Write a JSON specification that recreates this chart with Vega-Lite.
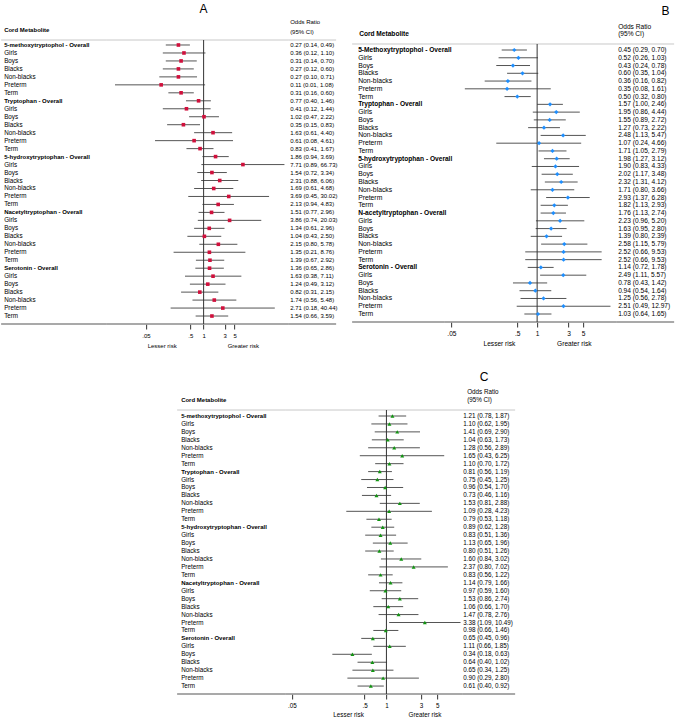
{
"$schema": "https://vega.github.io/schema/vega-lite/v6.json",
"padding": {"left": 0, "top": 2, "right": 0, "bottom": 0},
"config": {"view": {"stroke": null}, "text": {"font": "Liberation Sans", "color": "#000000"}, "axis": {"labelFont": "Liberation Sans"}},
"datasets": {
"A": [
{"row":1,"label":"5-methoxytryptophol - Overall","or":0.27,"lo":0.14,"hi":0.49,"ci":"0.27 (0.14, 0.49)"},
{"row":2,"label":"Girls","or":0.36,"lo":0.12,"hi":1.10,"ci":"0.36 (0.12, 1.10)"},
{"row":3,"label":"Boys","or":0.31,"lo":0.14,"hi":0.70,"ci":"0.31 (0.14, 0.70)"},
{"row":4,"label":"Blacks","or":0.27,"lo":0.12,"hi":0.60,"ci":"0.27 (0.12, 0.60)"},
{"row":5,"label":"Non-blacks","or":0.27,"lo":0.10,"hi":0.71,"ci":"0.27 (0.10, 0.71)"},
{"row":6,"label":"Preterm","or":0.11,"lo":0.01,"hi":1.08,"ci":"0.11 (0.01, 1.08)"},
{"row":7,"label":"Term","or":0.31,"lo":0.16,"hi":0.60,"ci":"0.31 (0.16, 0.60)"},
{"row":8,"label":"Tryptophan - Overall","or":0.77,"lo":0.40,"hi":1.46,"ci":"0.77 (0.40, 1.46)"},
{"row":9,"label":"Girls","or":0.41,"lo":0.12,"hi":1.44,"ci":"0.41 (0.12, 1.44)"},
{"row":10,"label":"Boys","or":1.02,"lo":0.47,"hi":2.22,"ci":"1.02 (0.47, 2.22)"},
{"row":11,"label":"Blacks","or":0.35,"lo":0.15,"hi":0.83,"ci":"0.35 (0.15, 0.83)"},
{"row":12,"label":"Non-blacks","or":1.63,"lo":0.61,"hi":4.40,"ci":"1.63 (0.61, 4.40)"},
{"row":13,"label":"Preterm","or":0.61,"lo":0.08,"hi":4.61,"ci":"0.61 (0.08, 4.61)"},
{"row":14,"label":"Term","or":0.83,"lo":0.41,"hi":1.67,"ci":"0.83 (0.41, 1.67)"},
{"row":15,"label":"5-hydroxytryptophan - Overall","or":1.86,"lo":0.94,"hi":3.69,"ci":"1.86 (0.94, 3.69)"},
{"row":16,"label":"Girls","or":7.71,"lo":0.89,"hi":66.73,"ci":"7.71 (0.89, 66.73)"},
{"row":17,"label":"Boys","or":1.54,"lo":0.72,"hi":3.34,"ci":"1.54 (0.72, 3.34)"},
{"row":18,"label":"Blacks","or":2.31,"lo":0.88,"hi":6.06,"ci":"2.31 (0.88, 6.06)"},
{"row":19,"label":"Non-blacks","or":1.69,"lo":0.61,"hi":4.68,"ci":"1.69 (0.61, 4.68)"},
{"row":20,"label":"Preterm","or":3.69,"lo":0.45,"hi":30.02,"ci":"3.69 (0.45, 30.02)"},
{"row":21,"label":"Term","or":2.13,"lo":0.94,"hi":4.83,"ci":"2.13 (0.94, 4.83)"},
{"row":22,"label":"Nacetyltryptophan - Overall","or":1.51,"lo":0.77,"hi":2.96,"ci":"1.51 (0.77, 2.96)"},
{"row":23,"label":"Girls","or":3.86,"lo":0.74,"hi":20.03,"ci":"3.86 (0.74, 20.03)"},
{"row":24,"label":"Boys","or":1.34,"lo":0.61,"hi":2.96,"ci":"1.34 (0.61, 2.96)"},
{"row":25,"label":"Blacks","or":1.04,"lo":0.43,"hi":2.50,"ci":"1.04 (0.43, 2.50)"},
{"row":26,"label":"Non-blacks","or":2.15,"lo":0.80,"hi":5.78,"ci":"2.15 (0.80, 5.78)"},
{"row":27,"label":"Preterm","or":1.35,"lo":0.21,"hi":8.76,"ci":"1.35 (0.21, 8.76)"},
{"row":28,"label":"Term","or":1.39,"lo":0.67,"hi":2.92,"ci":"1.39 (0.67, 2.92)"},
{"row":29,"label":"Serotonin - Overall","or":1.36,"lo":0.65,"hi":2.86,"ci":"1.36 (0.65, 2.86)"},
{"row":30,"label":"Girls","or":1.63,"lo":0.38,"hi":7.11,"ci":"1.63 (0.38, 7.11)"},
{"row":31,"label":"Boys","or":1.24,"lo":0.49,"hi":3.12,"ci":"1.24 (0.49, 3.12)"},
{"row":32,"label":"Blacks","or":0.82,"lo":0.31,"hi":2.15,"ci":"0.82 (0.31, 2.15)"},
{"row":33,"label":"Non-blacks","or":1.74,"lo":0.56,"hi":5.48,"ci":"1.74 (0.56, 5.48)"},
{"row":34,"label":"Preterm","or":2.71,"lo":0.18,"hi":40.44,"ci":"2.71 (0.18, 40.44)"},
{"row":35,"label":"Term","or":1.54,"lo":0.66,"hi":3.59,"ci":"1.54 (0.66, 3.59)"}
],
"B": [
{"row":1,"label":"5-Methoxytryptophol - Overall","or":0.45,"lo":0.29,"hi":0.70,"ci":"0.45 (0.29, 0.70)"},
{"row":2,"label":"Girls","or":0.52,"lo":0.26,"hi":1.03,"ci":"0.52 (0.26, 1.03)"},
{"row":3,"label":"Boys","or":0.43,"lo":0.24,"hi":0.78,"ci":"0.43 (0.24, 0.78)"},
{"row":4,"label":"Blacks","or":0.60,"lo":0.35,"hi":1.04,"ci":"0.60 (0.35, 1.04)"},
{"row":5,"label":"Non-blacks","or":0.36,"lo":0.16,"hi":0.82,"ci":"0.36 (0.16, 0.82)"},
{"row":6,"label":"Preterm","or":0.35,"lo":0.08,"hi":1.61,"ci":"0.35 (0.08, 1.61)"},
{"row":7,"label":"Term","or":0.50,"lo":0.32,"hi":0.80,"ci":"0.50 (0.32, 0.80)"},
{"row":8,"label":"Tryptophan - Overall","or":1.57,"lo":1.00,"hi":2.46,"ci":"1.57 (1.00, 2.46)"},
{"row":9,"label":"Girls","or":1.95,"lo":0.86,"hi":4.44,"ci":"1.95 (0.86, 4.44)"},
{"row":10,"label":"Boys","or":1.55,"lo":0.89,"hi":2.72,"ci":"1.55 (0.89, 2.72)"},
{"row":11,"label":"Blacks","or":1.27,"lo":0.73,"hi":2.22,"ci":"1.27 (0.73, 2.22)"},
{"row":12,"label":"Non-blacks","or":2.48,"lo":1.13,"hi":5.47,"ci":"2.48 (1.13, 5.47)"},
{"row":13,"label":"Preterm","or":1.07,"lo":0.24,"hi":4.66,"ci":"1.07 (0.24, 4.66)"},
{"row":14,"label":"Term","or":1.71,"lo":1.05,"hi":2.79,"ci":"1.71 (1.05, 2.79)"},
{"row":15,"label":"5-hydroxytryptophan - Overall","or":1.98,"lo":1.27,"hi":3.12,"ci":"1.98 (1.27, 3.12)"},
{"row":16,"label":"Girls","or":1.90,"lo":0.83,"hi":4.33,"ci":"1.90 (0.83, 4.33)"},
{"row":17,"label":"Boys","or":2.02,"lo":1.17,"hi":3.48,"ci":"2.02 (1.17, 3.48)"},
{"row":18,"label":"Blacks","or":2.32,"lo":1.31,"hi":4.12,"ci":"2.32 (1.31, 4.12)"},
{"row":19,"label":"Non-blacks","or":1.71,"lo":0.80,"hi":3.66,"ci":"1.71 (0.80, 3.66)"},
{"row":20,"label":"Preterm","or":2.93,"lo":1.37,"hi":6.28,"ci":"2.93 (1.37, 6.28)"},
{"row":21,"label":"Term","or":1.82,"lo":1.13,"hi":2.93,"ci":"1.82 (1.13, 2.93)"},
{"row":22,"label":"N-acetyltryptophan - Overall","or":1.76,"lo":1.13,"hi":2.74,"ci":"1.76 (1.13, 2.74)"},
{"row":23,"label":"Girls","or":2.23,"lo":0.96,"hi":5.20,"ci":"2.23 (0.96, 5.20)"},
{"row":24,"label":"Boys","or":1.63,"lo":0.95,"hi":2.80,"ci":"1.63 (0.95, 2.80)"},
{"row":25,"label":"Blacks","or":1.39,"lo":0.80,"hi":2.39,"ci":"1.39 (0.80, 2.39)"},
{"row":26,"label":"Non-blacks","or":2.58,"lo":1.15,"hi":5.79,"ci":"2.58 (1.15, 5.79)"},
{"row":27,"label":"Preterm","or":2.52,"lo":0.66,"hi":9.53,"ci":"2.52 (0.66, 9.53)"},
{"row":28,"label":"Term","or":2.52,"lo":0.66,"hi":9.53,"ci":"2.52 (0.66, 9.53)"},
{"row":29,"label":"Serotonin - Overall","or":1.14,"lo":0.72,"hi":1.78,"ci":"1.14 (0.72, 1.78)"},
{"row":30,"label":"Girls","or":2.49,"lo":1.11,"hi":5.57,"ci":"2.49 (1.11, 5.57)"},
{"row":31,"label":"Boys","or":0.78,"lo":0.43,"hi":1.42,"ci":"0.78 (0.43, 1.42)"},
{"row":32,"label":"Blacks","or":0.94,"lo":0.54,"hi":1.64,"ci":"0.94 (0.54, 1.64)"},
{"row":33,"label":"Non-blacks","or":1.25,"lo":0.56,"hi":2.78,"ci":"1.25 (0.56, 2.78)"},
{"row":34,"label":"Preterm","or":2.51,"lo":0.49,"hi":12.97,"ci":"2.51 (0.49, 12.97)"},
{"row":35,"label":"Term","or":1.03,"lo":0.64,"hi":1.65,"ci":"1.03 (0.64, 1.65)"}
],
"C": [
{"row":1,"label":"5-methoxytryptophol - Overall","or":1.21,"lo":0.78,"hi":1.87,"ci":"1.21 (0.78, 1.87)"},
{"row":2,"label":"Girls","or":1.10,"lo":0.62,"hi":1.95,"ci":"1.10 (0.62, 1.95)"},
{"row":3,"label":"Boys","or":1.41,"lo":0.69,"hi":2.90,"ci":"1.41 (0.69, 2.90)"},
{"row":4,"label":"Blacks","or":1.04,"lo":0.63,"hi":1.73,"ci":"1.04 (0.63, 1.73)"},
{"row":5,"label":"Non-blacks","or":1.28,"lo":0.56,"hi":2.89,"ci":"1.28 (0.56, 2.89)"},
{"row":6,"label":"Preterm","or":1.65,"lo":0.43,"hi":6.25,"ci":"1.65 (0.43, 6.25)"},
{"row":7,"label":"Term","or":1.10,"lo":0.70,"hi":1.72,"ci":"1.10 (0.70, 1.72)"},
{"row":8,"label":"Tryptophan - Overall","or":0.81,"lo":0.56,"hi":1.19,"ci":"0.81 (0.56, 1.19)"},
{"row":9,"label":"Girls","or":0.75,"lo":0.45,"hi":1.25,"ci":"0.75 (0.45, 1.25)"},
{"row":10,"label":"Boys","or":0.96,"lo":0.54,"hi":1.70,"ci":"0.96 (0.54, 1.70)"},
{"row":11,"label":"Blacks","or":0.73,"lo":0.46,"hi":1.16,"ci":"0.73 (0.46, 1.16)"},
{"row":12,"label":"Non-blacks","or":1.53,"lo":0.81,"hi":2.88,"ci":"1.53 (0.81, 2.88)"},
{"row":13,"label":"Preterm","or":1.09,"lo":0.28,"hi":4.23,"ci":"1.09 (0.28, 4.23)"},
{"row":14,"label":"Term","or":0.79,"lo":0.53,"hi":1.18,"ci":"0.79 (0.53, 1.18)"},
{"row":15,"label":"5-hydroxytryptophan - Overall","or":0.89,"lo":0.62,"hi":1.28,"ci":"0.89 (0.62, 1.28)"},
{"row":16,"label":"Girls","or":0.83,"lo":0.51,"hi":1.36,"ci":"0.83 (0.51, 1.36)"},
{"row":17,"label":"Boys","or":1.13,"lo":0.65,"hi":1.96,"ci":"1.13 (0.65, 1.96)"},
{"row":18,"label":"Blacks","or":0.80,"lo":0.51,"hi":1.26,"ci":"0.80 (0.51, 1.26)"},
{"row":19,"label":"Non-blacks","or":1.60,"lo":0.84,"hi":3.02,"ci":"1.60 (0.84, 3.02)"},
{"row":20,"label":"Preterm","or":2.37,"lo":0.80,"hi":7.02,"ci":"2.37 (0.80, 7.02)"},
{"row":21,"label":"Term","or":0.83,"lo":0.56,"hi":1.22,"ci":"0.83 (0.56, 1.22)"},
{"row":22,"label":"Nacetyltryptophan - Overall","or":1.14,"lo":0.79,"hi":1.66,"ci":"1.14 (0.79, 1.66)"},
{"row":23,"label":"Girls","or":0.97,"lo":0.59,"hi":1.60,"ci":"0.97 (0.59, 1.60)"},
{"row":24,"label":"Boys","or":1.53,"lo":0.86,"hi":2.74,"ci":"1.53 (0.86, 2.74)"},
{"row":25,"label":"Blacks","or":1.06,"lo":0.66,"hi":1.70,"ci":"1.06 (0.66, 1.70)"},
{"row":26,"label":"Non-blacks","or":1.47,"lo":0.78,"hi":2.76,"ci":"1.47 (0.78, 2.76)"},
{"row":27,"label":"Preterm","or":3.38,"lo":1.09,"hi":10.49,"ci":"3.38 (1.09, 10.49)"},
{"row":28,"label":"Term","or":0.98,"lo":0.66,"hi":1.46,"ci":"0.98 (0.66, 1.46)"},
{"row":29,"label":"Serotonin - Overall","or":0.65,"lo":0.45,"hi":0.96,"ci":"0.65 (0.45, 0.96)"},
{"row":30,"label":"Girls","or":1.11,"lo":0.66,"hi":1.85,"ci":"1.11 (0.66, 1.85)"},
{"row":31,"label":"Boys","or":0.34,"lo":0.18,"hi":0.63,"ci":"0.34 (0.18, 0.63)"},
{"row":32,"label":"Blacks","or":0.64,"lo":0.40,"hi":1.02,"ci":"0.64 (0.40, 1.02)"},
{"row":33,"label":"Non-blacks","or":0.65,"lo":0.34,"hi":1.25,"ci":"0.65 (0.34, 1.25)"},
{"row":34,"label":"Preterm","or":0.90,"lo":0.29,"hi":2.80,"ci":"0.90 (0.29, 2.80)"},
{"row":35,"label":"Term","or":0.61,"lo":0.40,"hi":0.92,"ci":"0.61 (0.40, 0.92)"}
]
},
"vconcat": [
{
"spacing": 13,
"hconcat": [
{
"bounds": "flush", "spacing": 0,
"hconcat": [
{
"width": 105, "height": 284,
"layer": [
{"data": {"values": [{}]}, "mark": {"type": "rule", "color": "#c8c8c8", "strokeWidth": 1}, "encoding": {"y": {"datum": 0.373, "scale": {"domain": [0.373, 36], "reverse": true, "nice": false, "zero": false}, "axis": null}}},
{"data": {"values": [{}]}, "mark": {"type": "rule", "color": "#8c8c8c", "strokeWidth": 1.5}, "encoding": {"y": {"datum": 36, "axis": null}}},
{"data": {"name": "A"}, "transform": [{"filter": "test(/Overall/, datum.label)"}], "mark": {"type": "text", "align": "left", "baseline": "middle", "dx": 3, "fontSize": 6, "fontWeight": "bold"}, "encoding": {"x": {"datum": 0, "scale": {"domain": [0, 1], "nice": false, "zero": false}, "axis": null}, "y": {"field": "row", "type": "quantitative", "axis": null}, "text": {"field": "label"}}},
{"data": {"name": "A"}, "transform": [{"filter": "!test(/Overall/, datum.label)"}], "mark": {"type": "text", "align": "left", "baseline": "middle", "dx": 3, "fontSize": 6.3}, "encoding": {"x": {"datum": 0, "axis": null}, "y": {"field": "row", "type": "quantitative", "axis": null}, "text": {"field": "label"}}},
{"data": {"values": [{}]}, "mark": {"type": "text", "align": "left", "baseline": "middle", "dx": 3, "fontSize": 6, "fontWeight": "bold"}, "encoding": {"x": {"datum": 0, "axis": null}, "y": {"datum": -0.88, "axis": null}, "text": {"value": "Cord Metabolite"}}}
]
},
{
"width": 182, "height": 284,
"layer": [
{"data": {"values": [{}]}, "mark": {"type": "rule", "color": "#c8c8c8", "strokeWidth": 1}, "encoding": {"y": {"datum": 0.373, "scale": {"domain": [0.373, 36], "reverse": true, "nice": false, "zero": false}, "axis": null}}},
{"data": {"values": [{}]}, "mark": {"type": "rule", "color": "#8c8c8c", "strokeWidth": 1.5}, "encoding": {"y": {"datum": 36, "axis": null}}},
{"data": {"name": "A"}, "mark": {"type": "rule", "color": "#555555", "strokeWidth": 1}, "encoding": {"x": {"field": "lo", "type": "quantitative", "scale": {"type": "log", "domain": [0.0063, 80.8], "nice": false}, "axis": {"values": [0.05, 0.5, 1, 3, 5], "labelExpr": "datum.value == 0.05 ? '.05' : datum.value == 0.5 ? '.5' : format(datum.value, 'd')", "domain": false, "grid": false, "ticks": true, "tickSize": 5, "tickColor": "#333333", "labelFontSize": 6, "labelPadding": 3, "labelColor": "#000000", "labelFlush": false, "labelOverlap": false, "title": null}}, "x2": {"field": "hi"}, "y": {"field": "row", "type": "quantitative", "axis": null}}},
{"data": {"values": [{}]}, "mark": {"type": "rule", "color": "#333333", "strokeWidth": 1}, "encoding": {"x": {"datum": 1}}},
{"data": {"name": "A"}, "mark": {"type": "point", "shape": "square", "filled": true, "color": "#d0103c", "opacity": 1, "size": 13}, "encoding": {"x": {"field": "or", "type": "quantitative"}, "y": {"field": "row", "type": "quantitative", "axis": null}}},
{"data": {"values": [{}]}, "mark": {"type": "text", "align": "center", "baseline": "middle", "fontSize": 12}, "encoding": {"x": {"datum": 1}, "y": {"datum": -3.55, "axis": null}, "text": {"value": "A"}}},
{"data": {"values": [{}]}, "mark": {"type": "text", "align": "center", "baseline": "middle", "fontSize": 6}, "encoding": {"x": {"datum": 0.116}, "y": {"datum": 38.75, "axis": null}, "text": {"value": "Lesser risk"}}},
{"data": {"values": [{}]}, "mark": {"type": "text", "align": "center", "baseline": "middle", "fontSize": 6}, "encoding": {"x": {"datum": 7.88}, "y": {"datum": 38.75, "axis": null}, "text": {"value": "Greater risk"}}}
]
},
{
"width": 48, "height": 284,
"layer": [
{"data": {"values": [{}]}, "mark": {"type": "rule", "color": "#c8c8c8", "strokeWidth": 1}, "encoding": {"y": {"datum": 0.373, "scale": {"domain": [0.373, 36], "reverse": true, "nice": false, "zero": false}, "axis": null}}},
{"data": {"values": [{}]}, "mark": {"type": "rule", "color": "#8c8c8c", "strokeWidth": 1.5}, "encoding": {"y": {"datum": 36, "axis": null}}},
{"data": {"name": "A"}, "mark": {"type": "text", "align": "left", "baseline": "middle", "dx": 2, "fontSize": 6}, "encoding": {"x": {"datum": 0, "scale": {"domain": [0, 1], "nice": false, "zero": false}, "axis": null}, "y": {"field": "row", "type": "quantitative", "axis": null}, "text": {"field": "ci"}}},
{"data": {"values": [{}]}, "mark": {"type": "text", "align": "left", "baseline": "middle", "dx": 2, "fontSize": 6}, "encoding": {"x": {"datum": 0, "axis": null}, "y": {"datum": -1.92, "axis": null}, "text": {"value": "Odds Ratio"}}},
{"data": {"values": [{}]}, "mark": {"type": "text", "align": "left", "baseline": "middle", "dx": 2, "fontSize": 6}, "encoding": {"x": {"datum": 0, "axis": null}, "y": {"datum": -0.67, "axis": null}, "text": {"value": "(95% CI)"}}}
]
}
]
},
{
"bounds": "flush", "spacing": 0,
"hconcat": [
{
"width": 92, "height": 282,
"layer": [
{"data": {"values": [{}]}, "mark": {"type": "rule", "color": "#c8c8c8", "strokeWidth": 1}, "encoding": {"y": {"datum": 0.227, "scale": {"domain": [-0.288, 36.03], "reverse": true, "nice": false, "zero": false}, "axis": null}}},
{"data": {"values": [{}]}, "mark": {"type": "rule", "color": "#8c8c8c", "strokeWidth": 1.5}, "encoding": {"y": {"datum": 36.03, "axis": null}}},
{"data": {"name": "B"}, "transform": [{"filter": "test(/Overall/, datum.label)"}], "mark": {"type": "text", "align": "left", "baseline": "middle", "dx": 6, "fontSize": 6.6, "fontWeight": "bold"}, "encoding": {"x": {"datum": 0, "scale": {"domain": [0, 1], "nice": false, "zero": false}, "axis": null}, "y": {"field": "row", "type": "quantitative", "axis": null}, "text": {"field": "label"}}},
{"data": {"name": "B"}, "transform": [{"filter": "!test(/Overall/, datum.label)"}], "mark": {"type": "text", "align": "left", "baseline": "middle", "dx": 6, "fontSize": 6.8}, "encoding": {"x": {"datum": 0, "axis": null}, "y": {"field": "row", "type": "quantitative", "axis": null}, "text": {"field": "label"}}},
{"data": {"values": [{}]}, "mark": {"type": "text", "align": "left", "baseline": "middle", "dx": 7, "fontSize": 6.6, "fontWeight": "bold"}, "encoding": {"x": {"datum": 0, "axis": null}, "y": {"datum": -1.01, "axis": null}, "text": {"value": "Cord Metabolite"}}}
]
},
{
"width": 172, "height": 282,
"layer": [
{"data": {"values": [{}]}, "mark": {"type": "rule", "color": "#c8c8c8", "strokeWidth": 1}, "encoding": {"y": {"datum": 0.227, "scale": {"domain": [-0.288, 36.03], "reverse": true, "nice": false, "zero": false}, "axis": null}}},
{"data": {"values": [{}]}, "mark": {"type": "rule", "color": "#8c8c8c", "strokeWidth": 1.5}, "encoding": {"y": {"datum": 36.03, "axis": null}}},
{"data": {"name": "B"}, "mark": {"type": "rule", "color": "#555555", "strokeWidth": 1}, "encoding": {"x": {"field": "lo", "type": "quantitative", "scale": {"type": "log", "domain": [0.0388, 15.8], "nice": false}, "axis": {"values": [0.05, 0.5, 1, 3, 5], "labelExpr": "datum.value == 0.05 ? '.05' : datum.value == 0.5 ? '.5' : format(datum.value, 'd')", "domain": false, "grid": false, "ticks": true, "tickSize": 5, "tickColor": "#333333", "labelFontSize": 6.6, "labelPadding": 3, "labelColor": "#000000", "labelFlush": false, "labelOverlap": false, "title": null}}, "x2": {"field": "hi"}, "y": {"field": "row", "type": "quantitative", "axis": null}}},
{"data": {"values": [{}]}, "mark": {"type": "rule", "color": "#333333", "strokeWidth": 1}, "encoding": {"x": {"datum": 1}, "y": {"datum": 0.227, "axis": null}, "y2": {"datum": 36.03}}},
{"data": {"name": "B"}, "mark": {"type": "point", "shape": "diamond", "filled": true, "color": "#1e8fff", "opacity": 1, "size": 18}, "encoding": {"x": {"field": "or", "type": "quantitative"}, "y": {"field": "row", "type": "quantitative", "axis": null}}},
{"data": {"values": [{}]}, "mark": {"type": "text", "align": "center", "baseline": "middle", "fontSize": 6.6}, "encoding": {"x": {"datum": 0.268}, "y": {"datum": 38.86, "axis": null}, "text": {"value": "Lesser risk"}}},
{"data": {"values": [{}]}, "mark": {"type": "text", "align": "center", "baseline": "middle", "fontSize": 6.6}, "encoding": {"x": {"datum": 3.67}, "y": {"datum": 38.86, "axis": null}, "text": {"value": "Greater risk"}}}
]
},
{
"width": 58, "height": 282,
"layer": [
{"data": {"values": [{}]}, "mark": {"type": "rule", "color": "#c8c8c8", "strokeWidth": 1}, "encoding": {"y": {"datum": 0.227, "scale": {"domain": [-0.288, 36.03], "reverse": true, "nice": false, "zero": false}, "axis": null}}},
{"data": {"values": [{}]}, "mark": {"type": "rule", "color": "#8c8c8c", "strokeWidth": 1.5}, "encoding": {"y": {"datum": 36.03, "axis": null}}},
{"data": {"name": "B"}, "mark": {"type": "text", "align": "left", "baseline": "middle", "dx": 2, "fontSize": 6.6}, "encoding": {"x": {"datum": 0, "scale": {"domain": [0, 1], "nice": false, "zero": false}, "axis": null}, "y": {"field": "row", "type": "quantitative", "axis": null}, "text": {"field": "ci"}}},
{"data": {"values": [{}]}, "mark": {"type": "text", "align": "left", "baseline": "middle", "dx": 2, "fontSize": 6.6}, "encoding": {"x": {"datum": 0, "axis": null}, "y": {"datum": -2.0, "axis": null}, "text": {"value": "Odds Ratio"}}},
{"data": {"values": [{}]}, "mark": {"type": "text", "align": "left", "baseline": "middle", "dx": 2, "fontSize": 6.6}, "encoding": {"x": {"datum": 0, "axis": null}, "y": {"datum": -1.01, "axis": null}, "text": {"value": "(95% CI)"}}},
{"data": {"values": [{}]}, "mark": {"type": "text", "align": "center", "baseline": "middle", "fontSize": 12}, "encoding": {"x": {"datum": 0.85, "axis": null}, "y": {"datum": -4.06, "axis": null}, "text": {"value": "B"}}}
]
}
]
}
]
},
{
"bounds": "flush", "spacing": 0,
"hconcat": [
{
"width": 125, "height": 284,
"layer": [
{"data": {"values": [{}]}, "mark": {"type": "rule", "color": "#c8c8c8", "strokeWidth": 1}, "encoding": {"y": {"datum": 0.244, "scale": {"domain": [0.244, 36], "reverse": true, "nice": false, "zero": false}, "axis": null}, "x": {"datum": 0.136, "scale": {"domain": [0, 1], "nice": false, "zero": false}, "axis": null}, "x2": {"datum": 1}}},
{"data": {"values": [{}]}, "mark": {"type": "rule", "color": "#8c8c8c", "strokeWidth": 1.5}, "encoding": {"y": {"datum": 36, "axis": null}, "x": {"datum": 0.136, "axis": null}, "x2": {"datum": 1}}},
{"data": {"name": "C"}, "transform": [{"filter": "test(/Overall/, datum.label)"}], "mark": {"type": "text", "align": "left", "baseline": "middle", "dx": 4, "fontSize": 6, "fontWeight": "bold"}, "encoding": {"x": {"datum": 0.136, "axis": null}, "y": {"field": "row", "type": "quantitative", "axis": null}, "text": {"field": "label"}}},
{"data": {"name": "C"}, "transform": [{"filter": "!test(/Overall/, datum.label)"}], "mark": {"type": "text", "align": "left", "baseline": "middle", "dx": 4, "fontSize": 6.3}, "encoding": {"x": {"datum": 0.136, "axis": null}, "y": {"field": "row", "type": "quantitative", "axis": null}, "text": {"field": "label"}}},
{"data": {"values": [{}]}, "mark": {"type": "text", "align": "left", "baseline": "middle", "dx": 4, "fontSize": 6, "fontWeight": "bold"}, "encoding": {"x": {"datum": 0.136, "axis": null}, "y": {"datum": -0.98, "axis": null}, "text": {"value": "Cord Metabolite"}}}
]
},
{
"width": 177, "height": 284,
"layer": [
{"data": {"values": [{}]}, "mark": {"type": "rule", "color": "#c8c8c8", "strokeWidth": 1}, "encoding": {"y": {"datum": 0.244, "scale": {"domain": [0.244, 36], "reverse": true, "nice": false, "zero": false}, "axis": null}}},
{"data": {"values": [{}]}, "mark": {"type": "rule", "color": "#8c8c8c", "strokeWidth": 1.5}, "encoding": {"y": {"datum": 36, "axis": null}}},
{"data": {"name": "C"}, "mark": {"type": "rule", "color": "#555555", "strokeWidth": 1}, "encoding": {"x": {"field": "lo", "type": "quantitative", "scale": {"type": "log", "domain": [0.04025, 11.03], "nice": false}, "axis": {"values": [0.05, 0.5, 1, 3, 5], "labelExpr": "datum.value == 0.05 ? '.05' : datum.value == 0.5 ? '.5' : format(datum.value, 'd')", "domain": false, "grid": false, "ticks": true, "tickSize": 5, "tickColor": "#333333", "labelFontSize": 6.3, "labelPadding": 3, "labelColor": "#000000", "labelFlush": false, "labelOverlap": false, "title": null}}, "x2": {"field": "hi"}, "y": {"field": "row", "type": "quantitative", "axis": null}}},
{"data": {"values": [{}]}, "mark": {"type": "rule", "color": "#333333", "strokeWidth": 1}, "encoding": {"x": {"datum": 1}}},
{"data": {"name": "C"}, "mark": {"type": "point", "shape": "triangle-up", "filled": true, "color": "#129412", "opacity": 1, "size": 16}, "encoding": {"x": {"field": "or", "type": "quantitative"}, "y": {"field": "row", "type": "quantitative", "axis": null}}},
{"data": {"values": [{}]}, "mark": {"type": "text", "align": "center", "baseline": "middle", "fontSize": 6.3}, "encoding": {"x": {"datum": 0.301}, "y": {"datum": 38.6, "axis": null}, "text": {"value": "Lesser risk"}}},
{"data": {"values": [{}]}, "mark": {"type": "text", "align": "center", "baseline": "middle", "fontSize": 6.3}, "encoding": {"x": {"datum": 3.39}, "y": {"datum": 38.6, "axis": null}, "text": {"value": "Greater risk"}}}
]
},
{
"width": 53, "height": 284,
"layer": [
{"data": {"values": [{}]}, "mark": {"type": "rule", "color": "#c8c8c8", "strokeWidth": 1}, "encoding": {"y": {"datum": 0.244, "scale": {"domain": [0.244, 36], "reverse": true, "nice": false, "zero": false}, "axis": null}}},
{"data": {"values": [{}]}, "mark": {"type": "rule", "color": "#8c8c8c", "strokeWidth": 1.5}, "encoding": {"y": {"datum": 36, "axis": null}}},
{"data": {"name": "C"}, "mark": {"type": "text", "align": "left", "baseline": "middle", "dx": 1, "fontSize": 6.3}, "encoding": {"x": {"datum": 0, "scale": {"domain": [0, 1], "nice": false, "zero": false}, "axis": null}, "y": {"field": "row", "type": "quantitative", "axis": null}, "text": {"field": "ci"}}},
{"data": {"values": [{}]}, "mark": {"type": "text", "align": "left", "baseline": "middle", "dx": 5, "fontSize": 6.3}, "encoding": {"x": {"datum": 0, "axis": null}, "y": {"datum": -1.98, "axis": null}, "text": {"value": "Odds Ratio"}}},
{"data": {"values": [{}]}, "mark": {"type": "text", "align": "left", "baseline": "middle", "dx": 5, "fontSize": 6.3}, "encoding": {"x": {"datum": 0, "axis": null}, "y": {"datum": -0.98, "axis": null}, "text": {"value": "(95% CI)"}}},
{"data": {"values": [{}]}, "mark": {"type": "text", "align": "center", "baseline": "middle", "fontSize": 12}, "encoding": {"x": {"datum": 0.415, "axis": null}, "y": {"datum": -3.96, "axis": null}, "text": {"value": "C"}}}
]
}
]
}
],
"spacing": 21,
"center": true
}
